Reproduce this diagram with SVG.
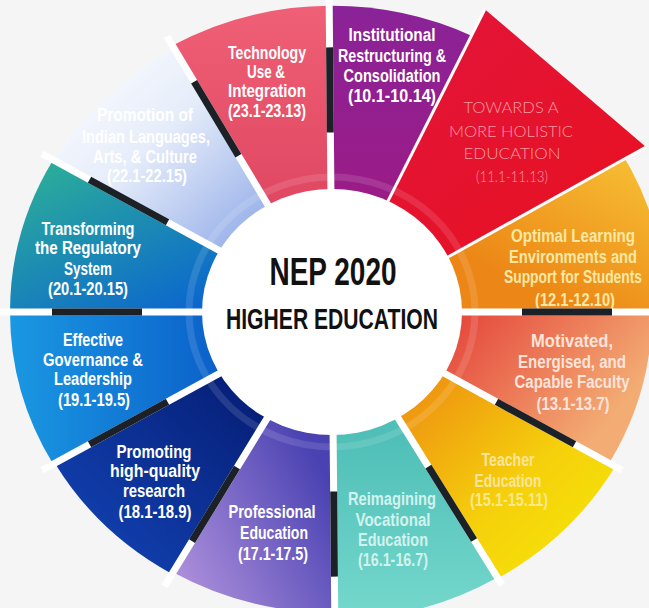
<svg xmlns="http://www.w3.org/2000/svg" width="649" height="608" viewBox="0 0 649 608">
<style>
.t{font-family:"Liberation Sans Narrow","Liberation Sans",Arial,sans-serif;font-weight:bold;font-size:18px;text-anchor:middle;fill:#ffffff}
.thin{font-family:Lato,"Open Sans","Liberation Sans",sans-serif;font-weight:300;font-size:16px;text-anchor:middle;fill:#f89aa4}
.c{font-family:"Liberation Sans Narrow","Liberation Sans",Arial,sans-serif;font-weight:bold;text-anchor:middle;fill:#111111}
.sepw{stroke:#ffffff;stroke-width:7;fill:none}
.sepd{stroke:#1c2128;stroke-width:7;fill:none}
.thinw{stroke:#ffffff;stroke-width:3;fill:none}
</style>
<defs>
<linearGradient id="gTech" x1="0" y1="0" x2="0" y2="1"><stop offset="0" stop-color="#ef6076"/><stop offset="1" stop-color="#d83a57"/></linearGradient>
<linearGradient id="gInst" x1="0" y1="0" x2="0" y2="1"><stop offset="0" stop-color="#8a2398"/><stop offset="1" stop-color="#a5177c"/></linearGradient>
<linearGradient id="gRed" x1="0" y1="0" x2="1" y2="1"><stop offset="0" stop-color="#e2153e"/><stop offset="1" stop-color="#e8101c"/></linearGradient>
<linearGradient id="gOpt" x1="0" y1="1" x2="1" y2="0"><stop offset="0.35" stop-color="#ec8616"/><stop offset="1" stop-color="#f9cc3a"/></linearGradient>
<linearGradient id="gMot" x1="0" y1="0" x2="1" y2="0.4"><stop offset="0.35" stop-color="#e5483c"/><stop offset="1" stop-color="#f3ad74"/></linearGradient>
<linearGradient id="gTea" x1="0" y1="0" x2="1" y2="1"><stop offset="0.3" stop-color="#ee9410"/><stop offset="0.65" stop-color="#f5d00c"/><stop offset="1" stop-color="#f6ea06"/></linearGradient>
<linearGradient id="gReim" x1="0" y1="0" x2="0" y2="1"><stop offset="0.4" stop-color="#4fbfb7"/><stop offset="1" stop-color="#76d8cd"/></linearGradient>
<linearGradient id="gProf" x1="1" y1="0" x2="0" y2="1"><stop offset="0.3" stop-color="#4a42b2"/><stop offset="1" stop-color="#b898e0"/></linearGradient>
<linearGradient id="gProm" x1="1" y1="0" x2="0" y2="1"><stop offset="0.3" stop-color="#061f78"/><stop offset="1" stop-color="#1447ba"/></linearGradient>
<linearGradient id="gEff" x1="0" y1="0.5" x2="1" y2="0.5"><stop offset="0" stop-color="#1a98e2"/><stop offset="0.7" stop-color="#0a5cc8"/></linearGradient>
<linearGradient id="gTrans" x1="0" y1="0" x2="1" y2="1"><stop offset="0.1" stop-color="#2aaa9c"/><stop offset="0.8" stop-color="#0a64d0"/></linearGradient>
<linearGradient id="gInd" x1="0" y1="0" x2="1" y2="1"><stop offset="0" stop-color="#ffffff"/><stop offset="0.35" stop-color="#e6edfa"/><stop offset="0.7" stop-color="#9ab2ea"/><stop offset="1" stop-color="#7890de"/></linearGradient>
</defs>
<rect width="649" height="608" fill="#f5f5f5"/>

<g id="node-indian">
<path d="M332,312 L54.9,160.8 A320,302.4 0 0 1 174.4,48.8 Z" fill="url(#gInd)"/>
<text class="t" x="145" y="121" textLength="96" lengthAdjust="spacingAndGlyphs">Promotion of</text>
<text class="t" x="146" y="143" textLength="128" lengthAdjust="spacingAndGlyphs">Indian Languages,</text>
<text class="t" x="145" y="163" textLength="104" lengthAdjust="spacingAndGlyphs">Arts, &amp; Culture</text>
<text class="t" x="147" y="182" textLength="80" lengthAdjust="spacingAndGlyphs">(22.1-22.15)</text>
</g>

<g id="node-tech">
<path d="M332,312 L172.5,45.5 A324,306.2 0 0 1 329.2,5.8 Z" fill="url(#gTech)"/>
<text class="t" x="267" y="59" textLength="78" lengthAdjust="spacingAndGlyphs">Technology</text>
<text class="t" x="266" y="78" textLength="38" lengthAdjust="spacingAndGlyphs">Use &amp;</text>
<text class="t" x="267" y="97" textLength="78" lengthAdjust="spacingAndGlyphs">Integration</text>
<text class="t" x="267" y="117" textLength="78" lengthAdjust="spacingAndGlyphs">(23.1-23.13)</text>
</g>

<g id="node-inst">
<path d="M332,312 L329.2,5.8 A324,306.2 0 0 1 471.5,35.7 Z" fill="url(#gInst)"/>
<text class="t" x="392" y="41" textLength="87" lengthAdjust="spacingAndGlyphs">Institutional</text>
<text class="t" x="392" y="62" textLength="108" lengthAdjust="spacingAndGlyphs">Restructuring &amp;</text>
<text class="t" x="392" y="82" textLength="97" lengthAdjust="spacingAndGlyphs">Consolidation</text>
<text class="t" x="392" y="102" textLength="88" lengthAdjust="spacingAndGlyphs">(10.1-10.14)</text>
</g>

<g id="node-optimal">
<path d="M332,312 L606.4,130.4 A335,316.6 0 0 1 667,312 Z" fill="url(#gOpt)"/>
<text class="t" x="573" y="242" textLength="124" lengthAdjust="spacingAndGlyphs" style="fill:#fbe8a4">Optimal Learning</text>
<text class="t" x="573" y="263" textLength="128" lengthAdjust="spacingAndGlyphs" style="fill:#fbe8a4">Environments and</text>
<text class="t" x="573" y="283" textLength="138" lengthAdjust="spacingAndGlyphs" style="fill:#fbe8a4">Support for Students</text>
<text class="t" x="575" y="306" textLength="80" lengthAdjust="spacingAndGlyphs" style="fill:#fbe8a4">(12.1-12.10)</text>
</g>

<g id="node-towards">
<path d="M332,312 L484.8,9.2 L646,147 L443.9,259.3 Z" fill="url(#gRed)"/>
<text class="thin" x="511" y="113" textLength="95" lengthAdjust="spacingAndGlyphs">TOWARDS A</text>
<text class="thin" x="511" y="137" textLength="124" lengthAdjust="spacingAndGlyphs">MORE HOLISTIC</text>
<text class="thin" x="512" y="159" textLength="97" lengthAdjust="spacingAndGlyphs">EDUCATION</text>
<text class="thin" x="512" y="182" textLength="72" lengthAdjust="spacingAndGlyphs">(11.1-11.13)</text>
</g>

<g id="node-motivated">
<path d="M332,312 L652,312 A320,302.4 0 0 1 609.1,463.2 Z" fill="url(#gMot)"/>
<text class="t" x="572" y="347" textLength="82" lengthAdjust="spacingAndGlyphs" style="fill:#fde4da">Motivated,</text>
<text class="t" x="572" y="368" textLength="108" lengthAdjust="spacingAndGlyphs" style="fill:#fde4da">Energised, and</text>
<text class="t" x="572" y="388" textLength="115" lengthAdjust="spacingAndGlyphs" style="fill:#fde4da">Capable Faculty</text>
<text class="t" x="573" y="410" textLength="73" lengthAdjust="spacingAndGlyphs" style="fill:#fde4da">(13.1-13.7)</text>
</g>

<g id="node-teacher">
<path d="M332,312 L615.2,466.5 A327,309 0 0 1 498,578.2 Z" fill="url(#gTea)"/>
<text class="t" x="508" y="466" textLength="53" lengthAdjust="spacingAndGlyphs" style="fill:#f9e59a">Teacher</text>
<text class="t" x="508" y="487" textLength="67" lengthAdjust="spacingAndGlyphs" style="fill:#f9e59a">Education</text>
<text class="t" x="509" y="506" textLength="78" lengthAdjust="spacingAndGlyphs" style="fill:#f9e98a">(15.1-15.11)</text>
</g>

<g id="node-reimagining">
<path d="M332,312 L497.4,577.4 A326,308.1 0 0 1 334.8,620.1 Z" fill="url(#gReim)"/>
<text class="t" x="392" y="505" textLength="88" lengthAdjust="spacingAndGlyphs" style="fill:#d2f2ee">Reimagining</text>
<text class="t" x="393" y="526" textLength="75" lengthAdjust="spacingAndGlyphs" style="fill:#d2f2ee">Vocational</text>
<text class="t" x="393" y="546" textLength="70" lengthAdjust="spacingAndGlyphs" style="fill:#d2f2ee">Education</text>
<text class="t" x="393" y="566" textLength="70" lengthAdjust="spacingAndGlyphs" style="fill:#d2f2ee">(16.1-16.7)</text>
</g>

<g id="node-professional">
<path d="M332,312 L334.8,612.5 A318,300.5 0 0 1 173,572.3 Z" fill="url(#gProf)"/>
<text class="t" x="272" y="518" textLength="87" lengthAdjust="spacingAndGlyphs">Professional</text>
<text class="t" x="274" y="539" textLength="68" lengthAdjust="spacingAndGlyphs">Education</text>
<text class="t" x="273" y="560" textLength="70" lengthAdjust="spacingAndGlyphs">(17.1-17.5)</text>
</g>

<g id="node-promoting">
<path d="M332,312 L172,573.9 A320,302.4 0 0 1 54.9,463.2 Z" fill="url(#gProm)"/>
<text class="t" x="154" y="458" textLength="75" lengthAdjust="spacingAndGlyphs">Promoting</text>
<text class="t" x="155" y="477" textLength="90" lengthAdjust="spacingAndGlyphs">high-quality</text>
<text class="t" x="154" y="497" textLength="62" lengthAdjust="spacingAndGlyphs">research</text>
<text class="t" x="155" y="518" textLength="73" lengthAdjust="spacingAndGlyphs">(18.1-18.9)</text>
</g>

<g id="node-effective">
<path d="M332,312 L53.1,464.1 A322,304.3 0 0 1 10,312 Z" fill="url(#gEff)"/>
<text class="t" x="93" y="346" textLength="60" lengthAdjust="spacingAndGlyphs">Effective</text>
<text class="t" x="93" y="366" textLength="100" lengthAdjust="spacingAndGlyphs">Governance &amp;</text>
<text class="t" x="93" y="385" textLength="78" lengthAdjust="spacingAndGlyphs">Leadership</text>
<text class="t" x="94" y="406" textLength="72" lengthAdjust="spacingAndGlyphs">(19.1-19.5)</text>
</g>

<g id="node-transforming">
<path d="M332,312 L10,312 A322,304.3 0 0 1 53.1,159.9 Z" fill="url(#gTrans)"/>
<text class="t" x="88" y="235" textLength="93" lengthAdjust="spacingAndGlyphs">Transforming</text>
<text class="t" x="88" y="254" textLength="106" lengthAdjust="spacingAndGlyphs">the Regulatory</text>
<text class="t" x="88" y="275" textLength="48" lengthAdjust="spacingAndGlyphs">System</text>
<text class="t" x="88" y="295" textLength="80" lengthAdjust="spacingAndGlyphs">(20.1-20.15)</text>
</g>

<ellipse cx="332" cy="312" rx="143" ry="135" fill="none" stroke="#ffffff" stroke-opacity="0.12" stroke-width="7"/>

<g id="separators">
<path class="thinw" d="M382.8,211.4 L484.8,9.2"/>
<path class="thinw" d="M443.9,259.3 L646,147"/>
<path class="sepw" d="M331,200.5 L329.1,-4.6 M450,312 L667,312 M434.2,367.8 L622.1,470.3 M391.9,408.1 L502,584.8 M333,423.5 L334.9,628.6 M273,408.6 L164.5,586.2 M229.8,367.8 L41.9,470.3 M214,312 L-3,312 M229.8,256.2 L41.9,153.7 M273.9,214.9 L167,36.5"/>
<path class="sepd" d="M330.3,132.5 L329.6,47.4 M522,312 L612,312 M496.5,401.8 L574.5,444.3 M428.4,466.7 L474.1,540 M333.7,491.5 L334.4,576.6 M237,467.5 L192,541.1 M167.5,401.8 L89.5,444.3 M142,312 L52,312 M167.5,222.2 L89.5,179.7 M238.4,155.7 L194.1,81.7"/>
</g>

<g id="node-center">
<ellipse cx="332" cy="312" rx="130" ry="123" fill="#ffffff"/>
<text class="c" x="333" y="285" font-size="38" textLength="127" lengthAdjust="spacingAndGlyphs">NEP 2020</text>
<text class="c" x="332" y="329" font-size="29" textLength="212" lengthAdjust="spacingAndGlyphs">HIGHER EDUCATION</text>
</g>
</svg>
